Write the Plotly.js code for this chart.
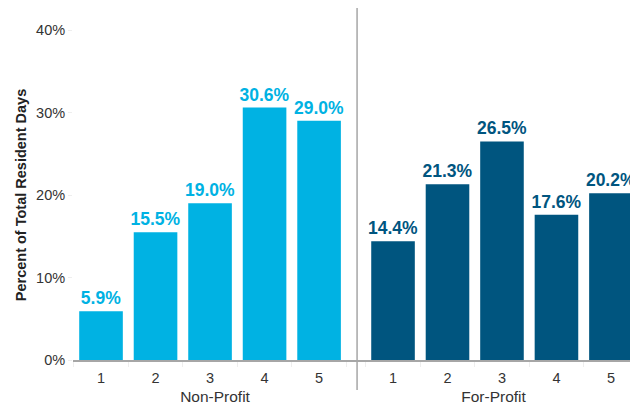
<!DOCTYPE html>
<html>
<head>
<meta charset="utf-8">
<script src="https://cdn.plot.ly/plotly-3.0.1.min.js"></script>
<style>html,body{margin:0;padding:0;background:#fff;}#chart{width:630px;height:409px;}</style>
</head>
<body>
<div id="chart"></div>
<script>
const categories = ['1', '2', '3', '4', '5'];
const nonProfitValues = [5.9, 15.5, 19.0, 30.6, 29.0];
const forProfitValues = [14.4, 21.3, 26.5, 17.6, 20.2];
const groupNames = ['Non-Profit', 'For-Profit'];
const yTickValues = [0, 10, 20, 30, 40];
const yTickLabels = ['0%', '10%', '20%', '30%', '40%'];

const lightBlue = '#00B2E3';
const darkBlue = '#00557F';
const fontFam = '"Liberation Sans", Arial, sans-serif';

const traces = [
  {
    type: 'bar', x: categories, y: nonProfitValues, xaxis: 'x', yaxis: 'y',
    width: 0.8, marker: {color: lightBlue},
    texttemplate: '%{y:.1f}%', textposition: 'outside', cliponaxis: false, constraintext: 'none',
    textfont: {family: fontFam, size: 17.5, color: lightBlue, weight: 'bold'},
    hoverinfo: 'none', name: groupNames[0]
  },
  {
    type: 'bar', x: categories, y: forProfitValues, xaxis: 'x2', yaxis: 'y',
    width: 0.8, marker: {color: darkBlue},
    texttemplate: '%{y:.1f}%', textposition: 'outside', cliponaxis: false, constraintext: 'none',
    textfont: {family: fontFam, size: 17.5, color: darkBlue, weight: 'bold'},
    hoverinfo: 'none', name: groupNames[1]
  }
];

const xCommon = {
  type: 'category', showgrid: false, zeroline: false,
  showline: true, linecolor: '#a6a6a6', linewidth: 2,
  ticks: 'outside', tickson: 'boundaries', ticklen: 5, tickcolor: '#eeeeee', tickwidth: 1,
  ticklabelstandoff: 4,
  tickfont: {family: fontFam, size: 14.5, color: '#333'},
  fixedrange: true
};

const layout = {
  width: 630, height: 409,
  margin: {l: 73, r: 0, t: 30, b: 49},
  paper_bgcolor: '#fff', plot_bgcolor: '#fff',
  showlegend: false,
  font: {family: fontFam, color: '#333'},
  xaxis: Object.assign({}, xCommon, {
    domain: [0, 0.51], range: [-0.514, 4.697], anchor: 'y',
    title: {text: groupNames[0], font: {family: fontFam, size: 15.5, color: '#333'}, standoff: 6}
  }),
  xaxis2: Object.assign({}, xCommon, {
    domain: [0.51, 1], range: [-0.66, 4.35], anchor: 'y',
    title: {text: groupNames[1], font: {family: fontFam, size: 15.5, color: '#333'}, standoff: 6}
  }),
  yaxis: {
    range: [0, 40], tickvals: yTickValues, ticktext: yTickLabels,
    showgrid: false, zeroline: false, showline: false,
    ticks: 'outside', ticklen: 4, tickcolor: '#eeeeee',
    tickfont: {family: fontFam, size: 14.5, color: '#333'},
    title: {text: 'Percent of Total Resident Days', font: {family: fontFam, size: 14.5, color: '#222', weight: 'bold'}, standoff: 5},
    fixedrange: true
  },
  shapes: [
    {type: 'line', xref: 'paper', yref: 'paper', x0: 0.51, x1: 0.51, y0: -0.091, y1: 1.067,
     line: {color: '#a6a6a6', width: 1.5}}
  ]
};

Plotly.newPlot('chart', traces, layout, {displayModeBar: false, staticPlot: true});
</script>
</body>
</html>
